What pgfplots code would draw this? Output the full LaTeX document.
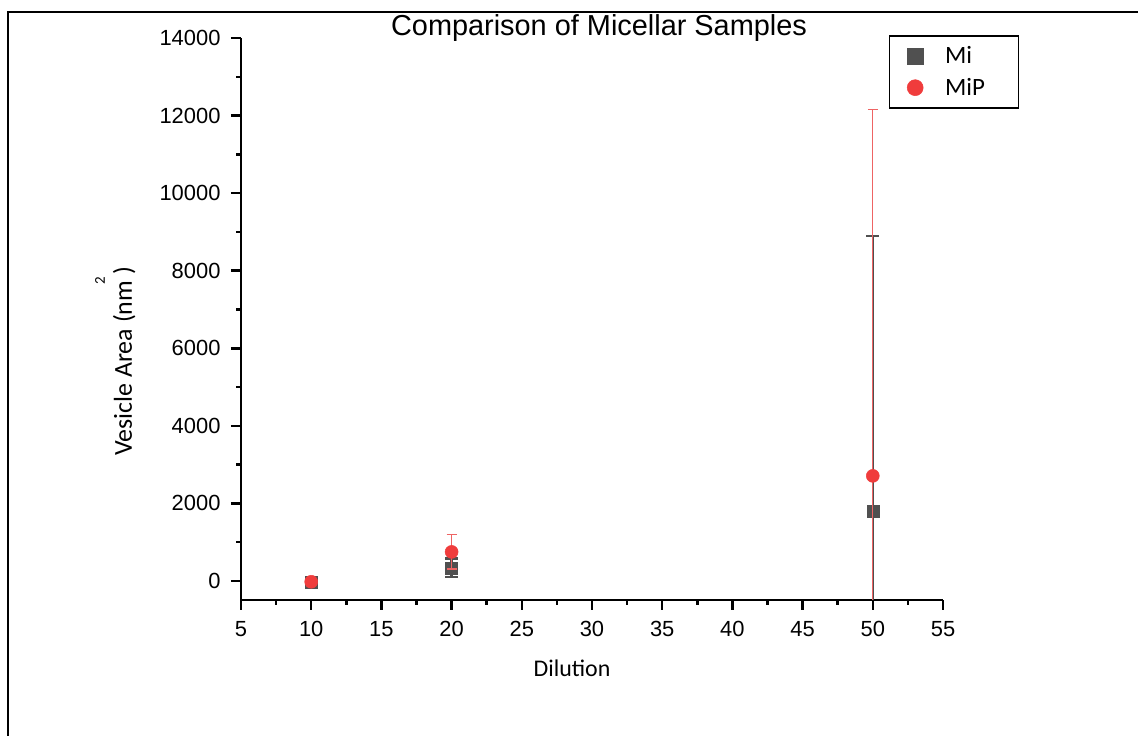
\documentclass[border=0pt]{standalone}
\usepackage{pgfplots}
\pgfplotsset{compat=1.18}
\usepackage{fontspec}
\setmainfont{Liberation Sans}
\newfontfamily\calibri{Carlito}
\definecolor{migray}{RGB}{80,80,80}
\definecolor{mipred}{RGB}{240,60,60}
\definecolor{mipline}{RGB}{238,100,100}

\begin{document}
\begin{tikzpicture}
\useasboundingbox (0,0) rectangle (1138bp,736bp);
\fill[white] (0,0) rectangle (1138bp,736bp);
\draw[line width=2bp] (8bp,0) -- (8bp,724bp) -- (1138bp,724bp);
\begin{axis}[
  at={(241bp,136bp)}, anchor=south west,
  scale only axis, width=702bp, height=562bp,
  xmin=5, xmax=55, ymin=-490, ymax=14000,
  axis lines*=left,
  axis line style={line width=2.5bp},
  clip mode=individual,
  xtick={5,10,...,55}, ytick={0,2000,...,14000},
  scaled y ticks=false, scaled x ticks=false,
  minor x tick num=1, minor y tick num=1,
  tick align=outside,
  major tick length=10bp, minor tick length=5bp,
  every tick/.style={black, line width=2.5bp},
  every minor tick/.style={black, line width=2.5bp},
  tick label style={font=\fontsize{22}{26}\selectfont},
  yticklabel style={xshift=-7bp},
  xticklabel style={yshift=-8bp},
  /pgf/number format/assume math mode=true,
  /pgf/number format/1000 sep={},
  title={Comparison of Micellar Samples},
  title style={at={(axis description cs:0.51,1.0053)}, anchor=base, yshift=-6pt, font=\fontsize{29}{33}\selectfont},
  xlabel={Dilution},
  xlabel style={at={(axis description cs:0.4715,-0.137)}, anchor=base, font=\calibri\fontsize{24}{28}\selectfont},
  ylabel={Vesicle Area (nm )},
  ylabel style={at={(axis description cs:-0.1553,0.4244)}, anchor=base, font=\calibri\fontsize{26}{30}\selectfont},
  legend style={at={(axis description cs:0.923,1.0053)}, anchor=north west, draw=black, line width=1.5bp,
    font=\calibri\fontsize{25}{30}\selectfont, row sep=9bp, inner xsep=17.5bp, inner ysep=9bp,
    /tikz/every odd column/.append style={column sep=20bp}},
  legend image post style={mark size=8bp},
  legend cell align=left,
]
\addplot+[only marks, mark=square*, mark size=6bp, color=migray,
  mark options={fill=migray, draw=migray, line width=0.5bp},
  error bars/.cd, y dir=both, y explicit,
  error bar style={line width=2.5bp, migray},
  error mark options={rotate=90, mark size=6.5bp, line width=2.5bp, migray}]
  coordinates {(10,-30) +- (0,20) (20,340) +- (0,240) (50,1800) +- (0,7100)};
\addlegendentry{\makebox[54bp][l]{Mi}}
\addplot+[only marks, mark=*, mark size=6.5bp, color=mipred,
  mark options={fill=mipred, draw=mipred, line width=0.5bp},
  error bars/.cd, y dir=both, y explicit,
  error bar style={line width=1.3bp, mipline},
  error mark options={rotate=90, mark size=5bp, line width=1.3bp, mipline}]
  coordinates {(10,-20) +- (0,20) (20,750) +- (0,440) (50,2710) +- (0,9440)};
\addlegendentry{\makebox[54bp][l]{MiP}}
\node[rotate=90, font=\calibri\fontsize{15}{18}\selectfont] at (axis description cs:-0.2009,0.5685) {2};
\end{axis}
\end{tikzpicture}
\end{document}
